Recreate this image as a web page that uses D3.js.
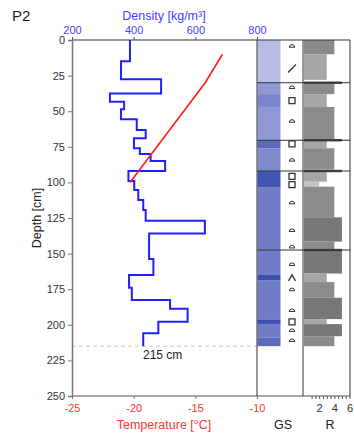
<html>
<script src='https://d3js.org/d3.v7.min.js'></script>
<style>
body {margin: 0; background: white;}
text {font-family: "Liberation Sans", Arial, sans-serif;}
</style>
<body>
<svg width=354 height=436></svg>
<script>
// density profile: top depth of each step [cm] and density [kg/m3]
var densTop = [0, 15, 27.5, 37.5, 43.3, 48.7, 55.7, 63.2, 69, 76, 80, 85, 92, 99, 105.3, 112.4, 119.4, 127, 135.8, 153.8, 165, 174, 182.6, 188.7, 197.8, 206];
var densVal = [388, 359, 489, 323, 369, 359, 410, 439, 401, 420, 455, 502, 383, 402, 415, 431, 439, 631, 450, 464, 385, 394, 518, 575, 480, 431];
var snowDepth = 215;

// temperature profile
var tempDepth = [10, 30, 100];
var tempVal = [-12.8, -14.2, -20.3];

// grain size bands
var gsTop = [0, 30, 38, 47, 70, 76, 92, 103.7, 147.5, 165, 169, 196.6, 199.4, 208.8];
var gsBot = [30, 38, 47, 70, 76, 92, 103.7, 147.5, 165, 169, 196.6, 199.4, 208.8, 215];
var gsVal = [0.5, 1.2, 1.6, 1.2, 2.1, 1.5, 2.5, 1.75, 1.75, 2.6, 1.75, 2.6, 1.75, 2.1];

// grain shape symbols
var symDepth = [4, 20, 33, 42.6, 56.7, 73, 84, 95.8, 101.6, 114, 133.4, 145, 157.3, 167, 175, 189.6, 198, 203.6, 210.7];
var symType = ["r", "s", "r", "q", "r", "q", "r", "q", "q", "r", "r", "r", "r", "c", "r", "r", "q", "r", "r"];

// hardness R
var rTop = [0, 10, 30, 38, 47, 70, 76, 92, 99.5, 103, 124.5, 141.6, 148, 164, 170, 181, 196, 199.5, 208];
var rBot = [10, 28, 38, 47, 70, 76, 91, 99.5, 103, 124.5, 141.6, 147.5, 164, 170, 181, 196, 199.5, 208, 215];
var rVal = [4, 3, 4, 3, 4, 3, 4, 3, 2, 4, 5, 4, 5, 3, 4, 5, 3, 5, 4];

// layer boundaries (crusts)
var layerDepth = [30, 70.4, 92, 147.5];

var depthTicks = [0, 25, 50, 75, 100, 125, 150, 175, 200, 225, 250];
var tempTicks = [-25, -20, -15, -10];
var densTicks = [200, 400, 600, 800];
var rTicks = [2, 4, 6];

var left = 72, mainRight = 257, gsRight = 303, rRight = 350, plotTop = 40, plotBottom = 396;
var blue = "#3f3fff", red = "#ff3333";
var plain = function(d) {return String(d);};

var svg = d3.select("svg");

var y = d3.scaleLinear().domain([0, 250]).range([plotTop, plotBottom]);
var xT = d3.scaleLinear().domain([-25, -10]).range([left, mainRight]);
var xD = d3.scaleLinear().domain([200, 800]).range([left, mainRight]);
var xR = d3.scaleLinear().domain([0, 6]).range([304, 349.5]);
var gsColor = d3.scaleLinear().domain([0.5, 1.5, 2.6]).range(["#b7bce4", "#7f8acd", "#3d50b0"]);
var rColor = d3.scaleLinear().domain([2, 3, 4, 5]).range(["#c4c4c4", "#a6a6a6", "#8b8b8b", "#777777"]);

// GS bands
svg.append("g").selectAll("rect")
    .data(gsVal)
    .enter()
    .append("rect")
     .attr("x", mainRight + 0.5)
     .attr("width", 23)
     .attr("y", function(d, i) {return y(gsTop[i]);})
     .attr("height", function(d, i) {return y(gsBot[i]) - y(gsTop[i]);})
     .attr("fill", function(d) {return gsColor(d);});

// R bars
svg.append("g").selectAll("rect")
    .data(rVal)
    .enter()
    .append("rect")
     .attr("x", xR(0))
     .attr("width", function(d) {return xR(d) - xR(0);})
     .attr("y", function(d, i) {return y(rTop[i]);})
     .attr("height", function(d, i) {return y(rBot[i]) - y(rTop[i]);})
     .attr("fill", function(d) {return rColor(d);});

// crusts in R panel
svg.append("g").selectAll("rect")
    .data(layerDepth)
    .enter()
    .append("rect")
     .attr("x", xR(0))
     .attr("width", xR(5) - xR(0))
     .attr("y", function(d) {return y(d) - 1.2;})
     .attr("height", 2.4)
     .attr("fill", "#444");

// layer lines
svg.append("g").selectAll("line")
    .data(layerDepth)
    .enter()
    .append("line")
     .attr("x1", mainRight).attr("x2", rRight)
     .attr("y1", function(d) {return y(d);})
     .attr("y2", function(d) {return y(d);})
     .attr("stroke", "#333").attr("stroke-width", 1);

// grain shape symbols
var symPath = {
    r: "M-3,1.5 L3,1.5 M-2.6,1.5 A2.6,2.6 0 0 1 2.6,1.5",
    q: "M-3,-3 L3,-3 L3,3 L-3,3 Z",
    s: "M-4,4 L4,-4",
    c: "M-3.5,3 L0,-3 L3.5,3"
};
svg.append("g").selectAll("path")
    .data(symType)
    .enter()
    .append("path")
     .attr("transform", function(d, i) {return "translate(292," + y(symDepth[i]) + ")";})
     .attr("d", function(d) {return symPath[d];})
     .attr("fill", "none")
     .attr("stroke", "#333")
     .attr("stroke-width", function(d) {return d == "r" ? 1 : 1.3;});

// snow depth line
svg.append("line")
    .attr("x1", left).attr("x2", mainRight)
    .attr("y1", y(snowDepth)).attr("y2", y(snowDepth))
    .attr("stroke", "#c8c8c8").attr("stroke-dasharray", "4,3");
svg.append("text")
    .attr("x", 143).attr("y", y(snowDepth) + 13)
    .style("font-size", "12px").attr("fill", "#222")
    .text(snowDepth + " cm");

// density step line
var densPts = densVal.map(function(d, i) {return [d, densTop[i]];});
densPts.push([densVal[densVal.length - 1], snowDepth]);
svg.append("path")
    .datum(densPts)
    .attr("fill", "none").attr("stroke", "#1f1fff").attr("stroke-width", 2)
    .attr("d", d3.line()
        .x(function(d) {return xD(d[0]);})
        .y(function(d) {return y(d[1]);})
        .curve(d3.curveStepBefore));

// temperature line
svg.append("path")
    .datum(tempVal.map(function(d, i) {return [d, tempDepth[i]];}))
    .attr("fill", "none").attr("stroke", "#ff1a1a").attr("stroke-width", 1.6)
    .attr("d", d3.line()
        .x(function(d) {return xT(d[0]);})
        .y(function(d) {return y(d[1]);}));

// frame
svg.append("line").attr("x1", left).attr("x2", rRight).attr("y1", plotTop).attr("y2", plotTop).attr("stroke", "#333");
svg.append("line").attr("x1", left).attr("x2", rRight).attr("y1", plotBottom).attr("y2", plotBottom).attr("stroke", "#555");
[mainRight, gsRight, rRight].forEach(function(xx) {
    svg.append("line").attr("x1", xx).attr("x2", xx).attr("y1", plotTop).attr("y2", plotBottom).attr("stroke", "#333");
});

// left axis
var ax = svg.append("g")
   .attr("transform", "translate(" + left + ",0)")
   .call(d3.axisLeft(y).tickValues(depthTicks).tickFormat(plain).tickSize(4).tickPadding(3));
ax.select(".domain").attr("stroke", "#777").attr("stroke-width", 1.5);
ax.selectAll(".tick line").attr("stroke", "#777");
ax.selectAll("text").attr("fill", "#333").style("font-size", "11px").style("font-family", "Liberation Sans, Arial");

// bottom temperature axis
var bx = svg.append("g")
   .attr("transform", "translate(0," + plotBottom + ")")
   .call(d3.axisBottom(xT).tickValues(tempTicks).tickFormat(plain).tickSize(3).tickPadding(5));
bx.select(".domain").remove();
bx.selectAll(".tick line").attr("stroke", "#777");
bx.selectAll("text").attr("fill", red).style("font-size", "11px").style("font-family", "Liberation Sans, Arial");

// top density axis
var tx = svg.append("g")
   .attr("transform", "translate(0," + plotTop + ")")
   .call(d3.axisTop(xD).tickValues(densTicks).tickFormat(plain).tickSize(3).tickPadding(3));
tx.select(".domain").remove();
tx.selectAll(".tick line").attr("stroke", blue);
tx.selectAll("text").attr("fill", blue).style("font-size", "11px").style("font-family", "Liberation Sans, Arial");

// R axis
var rx = svg.append("g")
   .attr("transform", "translate(0," + plotBottom + ")")
   .call(d3.axisBottom(xR).tickValues(d3.range(1, 6.01, 0.5)).tickSize(3).tickFormat(""));
rx.select(".domain").remove();
rx.selectAll(".tick line").attr("stroke", "#555");
var rx2 = svg.append("g")
   .attr("transform", "translate(0," + plotBottom + ")")
   .call(d3.axisBottom(xR).tickValues(rTicks).tickFormat(plain).tickSize(0).tickPadding(8));
rx2.select(".domain").remove();
rx2.selectAll("text").attr("fill", "#333").style("font-size", "11px").style("font-family", "Liberation Sans, Arial");

// labels
svg.append("text").attr("x", 12).attr("y", 21).style("font-size", "15px").attr("fill", "#222").text("P2");
svg.append("text").attr("x", 164).attr("y", 20).style("text-anchor", "middle").style("font-size", "12.5px").attr("fill", blue).text("Density [kg/m³]");
svg.append("text").attr("x", 164).attr("y", 429).style("text-anchor", "middle").style("font-size", "12.5px").attr("fill", red).text("Temperature [°C]");
svg.append("text").attr("transform", "rotate(-90)").attr("x", -218).attr("y", 41).style("text-anchor", "middle").style("font-size", "12.5px").attr("fill", "#222").text("Depth [cm]");
svg.append("text").attr("x", 283).attr("y", 429).style("text-anchor", "middle").style("font-size", "12.5px").attr("fill", "#222").text("GS");
svg.append("text").attr("x", 330).attr("y", 429).style("text-anchor", "middle").style("font-size", "12.5px").attr("fill", "#222").text("R");
</script>
</body>
</html>
